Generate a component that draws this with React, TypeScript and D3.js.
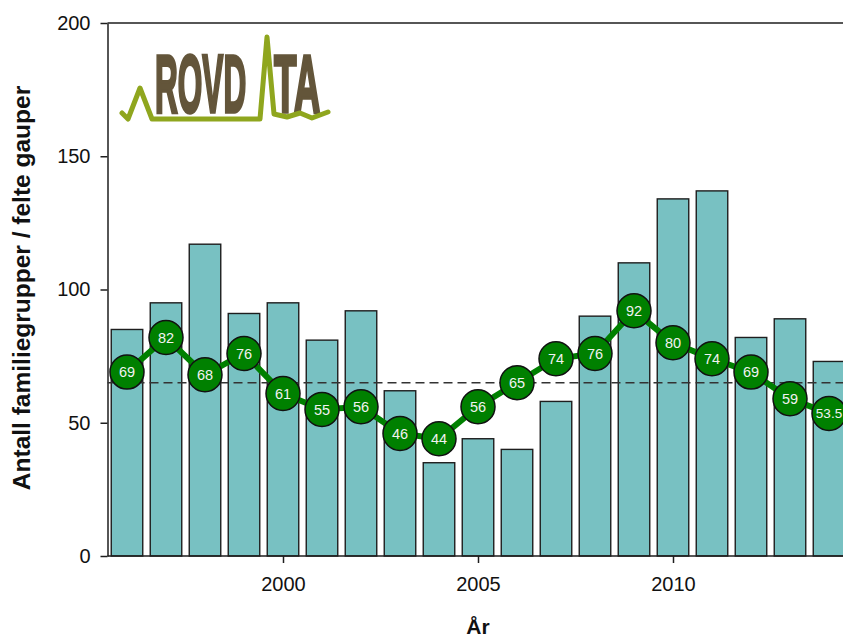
import * as d3 from 'd3';
import React, { useEffect, useRef } from 'react';

const years = [1996, 1997, 1998, 1999, 2000, 2001, 2002, 2003, 2004, 2005, 2006, 2007, 2008, 2009, 2010, 2011, 2012, 2013, 2014];
const felte = [85, 95, 117, 91, 95, 81, 92, 62, 35, 44, 40, 58, 90, 110, 134, 137, 82, 89, 73];
const familiegrupper = [69, 82, 68, 76, 61, 55, 56, 46, 44, 56, 65, 74, 76, 92, 80, 74, 69, 59, 53.5];
const mal = 65; // bestandsmål
const xTicks = [2000, 2005, 2010];
const yTicks = [0, 50, 100, 150, 200];

const W = 843;
const H = 639;

const App: React.FC = () => {
  const svgRef = useRef(null);

  useEffect(() => {
    const svg = d3.select(svgRef.current);
    svg.selectAll('*').remove();

    const left = 107.5;
    const top = 23;
    const bottom = 556;

    const x = d3.scaleLinear().domain([1995.5, 2014.5]).range([left, left + 19 * 39]);
    const y = d3.scaleLinear().domain([0, 200]).range([bottom, top]);
    const barW = 31.5;
    const font = 'Liberation Sans, Arial, sans-serif';
    const ink = '#1e1e1e';

    // bars
    svg
      .append('g')
      .selectAll('rect')
      .data(years)
      .enter()
      .append('rect')
      .attr('x', (d) => x(d) - barW / 2)
      .attr('y', (d, i) => y(felte[i]))
      .attr('width', barW)
      .attr('height', (d, i) => bottom - y(felte[i]))
      .attr('fill', '#78c1c2')
      .attr('stroke', ink)
      .attr('stroke-width', 1.4);

    // frame: top line + axes
    svg
      .append('line')
      .attr('x1', left)
      .attr('x2', W)
      .attr('y1', top)
      .attr('y2', top)
      .attr('stroke', ink)
      .attr('stroke-width', 1.5);

    const yAxis = svg
      .append('g')
      .attr('transform', `translate(${left},0)`)
      .call(d3.axisLeft(y).tickValues(yTicks).tickSize(7).tickPadding(10).tickSizeOuter(0));
    yAxis.select('.domain').attr('stroke', ink).attr('stroke-width', 1.5);
    yAxis.selectAll('line').attr('stroke', ink).attr('stroke-width', 1.5);
    yAxis.selectAll('text').attr('font-family', font).attr('font-size', 20).attr('fill', '#111');

    const xAxis = svg
      .append('g')
      .attr('transform', `translate(0,${bottom})`)
      .call(d3.axisBottom(x).tickValues(xTicks).tickFormat(d3.format('d')).tickSize(7).tickPadding(14).tickSizeOuter(0));
    xAxis.select('.domain').attr('stroke', ink).attr('stroke-width', 1.5).attr('d', `M${left},0H${W + 10}`);
    xAxis.selectAll('line').attr('stroke', ink).attr('stroke-width', 1.5);
    xAxis.selectAll('text').attr('font-family', font).attr('font-size', 20).attr('fill', '#111');

    // reference line
    svg
      .append('line')
      .attr('x1', left)
      .attr('x2', W)
      .attr('y1', y(mal))
      .attr('y2', y(mal))
      .attr('stroke', '#333')
      .attr('stroke-width', 1.4)
      .attr('stroke-dasharray', '9,5');

    // family groups line
    const line = d3
      .line<number>()
      .x((d, i) => x(years[i]))
      .y((d) => y(d));

    svg
      .append('path')
      .datum(familiegrupper)
      .attr('fill', 'none')
      .attr('stroke', '#008000')
      .attr('stroke-width', 6)
      .attr('d', line);

    const dots = svg
      .append('g')
      .selectAll('g')
      .data(familiegrupper)
      .enter()
      .append('g')
      .attr('transform', (d, i) => `translate(${x(years[i])},${y(d)})`);

    dots.append('circle').attr('r', 17).attr('fill', '#008000').attr('stroke', '#111').attr('stroke-width', 1.5);
    dots
      .append('text')
      .attr('text-anchor', 'middle')
      .attr('dy', '0.36em')
      .attr('font-family', font)
      .attr('font-size', (d) => (String(d).length > 2 ? 13.5 : 14.5))
      .attr('fill', '#f2f2f2')
      .text((d) => String(d));

    // axis titles
    svg
      .append('text')
      .attr('transform', `translate(30,288) rotate(-90)`)
      .attr('text-anchor', 'middle')
      .attr('font-family', font)
      .attr('font-weight', 'bold')
      .attr('font-size', 24.5)
      .attr('fill', '#111')
      .text('Antall familiegrupper / felte gauper');

    svg
      .append('text')
      .attr('x', x(2005))
      .attr('y', 634)
      .attr('text-anchor', 'middle')
      .attr('font-family', font)
      .attr('font-weight', 'bold')
      .attr('font-size', 21)
      .attr('fill', '#111')
      .text('År');

    // ROVDATA logo
    const logo = svg.append('g');
    const pulse: [number, number][] = [
      [122, 113], [128, 119], [140, 88], [152, 119], [260, 119], [267, 37],
      [274, 114], [287, 117], [300, 113], [312, 118], [328, 112],
    ];
    const rovText = [
      { t: 'ROVD', x: 155, sx: 0.385 },
      { t: 'TA', x: 274, sx: 0.45 },
    ];
    rovText.forEach((r) => {
      logo
        .append('text')
        .attr('transform', `translate(${r.x},112) scale(${r.sx},1)`)
        .attr('font-family', font)
        .attr('font-weight', 'bold')
        .attr('font-size', 82)
        .attr('fill', '#63553a')
        .attr('stroke', '#63553a')
        .attr('stroke-width', 3.5)
        .text(r.t);
    });
    logo
      .append('path')
      .attr('d', d3.line()(pulse))
      .attr('fill', 'none')
      .attr('stroke', '#8fa61e')
      .attr('stroke-width', 5)
      .attr('stroke-linejoin', 'round')
      .attr('stroke-linecap', 'round');
  }, []);

  return (
    <svg
      ref={svgRef}
      width={W}
      height={H}
      style={{ position: 'absolute', left: 0, top: 0, background: '#fff' }}
    />
  );
};

export default App;
